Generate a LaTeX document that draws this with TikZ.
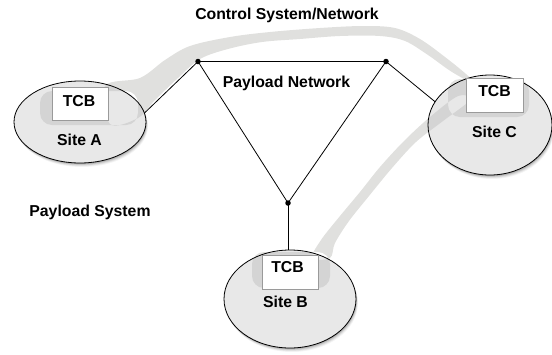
\documentclass[tikz,border=0pt]{standalone}
\usepackage{fontspec}
\setmainfont{Liberation Sans}
\usetikzlibrary{shapes.geometric}
\definecolor{bandout}{HTML}{E0E0DE}
\definecolor{bandin}{HTML}{D4D4D4}
\definecolor{sitefill}{HTML}{E8E8E8}
\definecolor{boxline}{HTML}{9A9A9A}

% outline of the control network (bands plus halos round each TCB)
\def\ctrlbands{
  plot[smooth cycle, tension=0.55] coordinates {
    (105,86) (140,78) (165,60) (190,46) (230,37) (270,32) (320,28) (363,26)
    (395,28) (420,39) (445,57) (466,74) (478,86) (452,72) (428,55) (405,41)
    (380,36) (340,36) (300,39) (262,42) (228,49) (200,59) (178,78) (155,100)
    (138,118) (110,124)}
  plot[smooth cycle, tension=0.55] coordinates {
    (470,100) (443,121) (416,142) (392,168) (369,196) (349,221) (335,243)
    (330,258) (312,258) (321,240) (340,216) (360,192) (380,167) (404,141)
    (430,117) (458,96)}
  [rounded corners=12pt]
  (40,91) rectangle (138,125)
  (252,252) rectangle (330,288)
  (448,79) rectangle (529,117)
}
\def\siteA{(80,122) ellipse [x radius=66, y radius=41]}
\def\siteB{(290,299) ellipse [x radius=66, y radius=49]}
\def\siteC{(490,125) ellipse [x radius=62, y radius=50]}

\begin{document}
\begin{tikzpicture}[x=1pt, y=-1pt,
  lbl/.style={font=\fontsize{15.8}{18}\selectfont\bfseries, inner sep=0pt, anchor=base},
  sitenode/.style={ellipse, fill=sitefill, inner sep=0pt},
  tcbbox/.style={draw=boxline, line width=0.5pt, fill=white, inner sep=0pt,
                 minimum width=56pt},
  hub/.style={circle, fill=black, inner sep=0pt, minimum size=5.5pt},
  link/.style={line width=0.8pt},
  rim/.style={draw=black, line width=0.8pt}]

\useasboundingbox (0,0) rectangle (552,354);

% soft shadows below the sites
\foreach \k/\o in {1/0.12,2/0.10,3/0.08,4/0.06,5/0.04} {
  \fill[black, opacity=\o, shift={(0.4*\k,0.8*\k)}] \siteA;
  \fill[black, opacity=\o, shift={(0.4*\k,0.8*\k)}] \siteB;
  \fill[black, opacity=\o, shift={(0.4*\k,0.8*\k)}] \siteC;
}

% control network outside the sites
\fill[bandout] \ctrlbands;

% sites
\node[sitenode, minimum width=132pt, minimum height=82pt] (siteA) at (80,122) {};
\node[sitenode, minimum width=132pt, minimum height=98pt] (siteB) at (290,299) {};
\node[sitenode, minimum width=124pt, minimum height=100pt] (siteC) at (490,125) {};

% control network inside the sites
\begin{scope}
  \clip \siteA \siteB \siteC;
  \fill[bandin] \ctrlbands;
\end{scope}
\draw[rim] \siteA;
\draw[rim] \siteB;
\draw[rim] \siteC;

% trusted computing bases
\node[tcbbox, minimum height=33pt] (tcbA) at (80,103.5) {};
\node[tcbbox, minimum height=34pt] (tcbB) at (290,272) {};
\node[tcbbox, minimum height=34pt, minimum width=57pt] (tcbC) at (494.5,95) {};
\node[lbl] (tcbAtext) at (79,106.5) {TCB};
\node[lbl] (tcbBtext) at (287.5,272) {TCB};
\node[lbl] (tcbCtext) at (494.5,96.5) {TCB};

% site names
\node[lbl] (siteAtext) at (79.5,145) {Site A};
\node[lbl] (siteBtext) at (285.5,307) {Site B};
\node[lbl] (siteCtext) at (494.5,137) {Site C};

% payload network
\node[hub] (hubA) at (198,61.5) {};
\node[hub] (hubC) at (386,61.5) {};
\node[hub] (hubB) at (288,203) {};
\draw[link] (hubA.center) -- (hubC.center) -- (hubB.center) -- cycle;
\draw[link] (hubA.center) -- (siteA.8);
\draw[link] (hubC.center) -- (siteC.157);
\draw[link] (hubB.center) -- (hubB.center |- siteB.north);

% captions
\node[lbl] (ctrltext) at (287,19) {Control System/Network};
\node[lbl] (paynet) at (286.5,87) {Payload Network};
\node[lbl] (paysys) at (90,216) {Payload System};
\end{tikzpicture}
\end{document}
